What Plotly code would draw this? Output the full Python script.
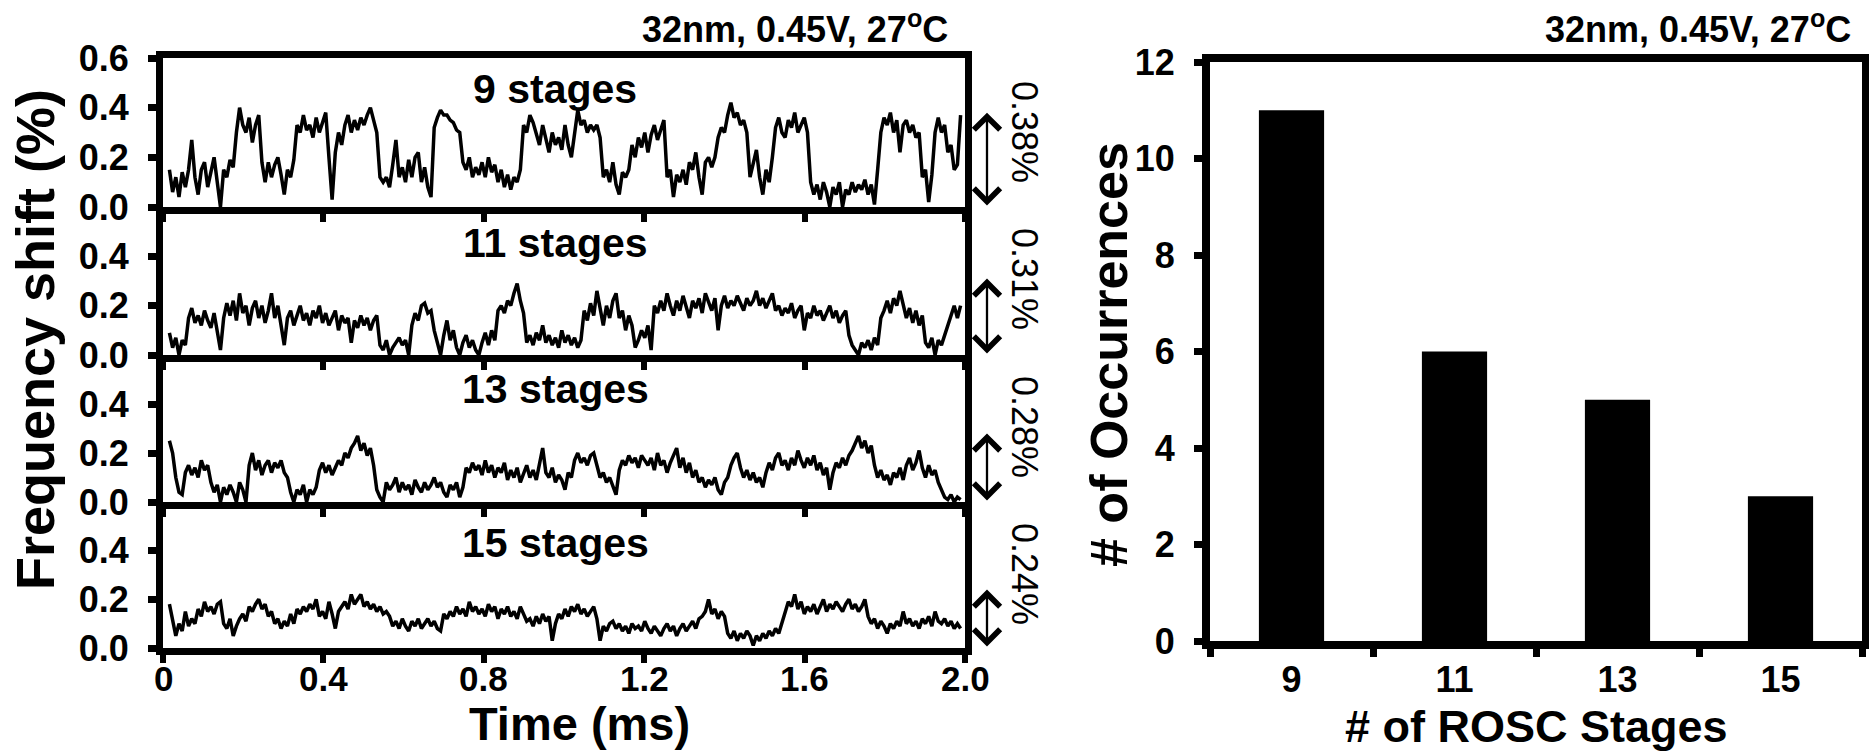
import numpy as np
import plotly.graph_objects as go

# ---------------- data ----------------
stage_labels = ["9 stages", "11 stages", "13 stages", "15 stages"]
spread_labels = ["0.38%", "0.31%", "0.28%", "0.24%"]
spread_values = [0.38, 0.31, 0.28, 0.24]
time_start, time_end = 0.016, 1.989   # ms, first / last sample

shift_9 = [
    0.15, 0.06, 0.12, 0.04, 0.14, 0.08, 0.15, 0.27, 0.12, 0.05, 0.15, 0.18, 0.08, 0.14, 0.20, 0.10,
    0.00, 0.15, 0.12, 0.19, 0.16, 0.30, 0.40, 0.33, 0.30, 0.36, 0.26, 0.33, 0.37, 0.18, 0.10, 0.18,
    0.12, 0.17, 0.20, 0.13, 0.05, 0.15, 0.12, 0.19, 0.33, 0.30, 0.37, 0.31, 0.33, 0.28, 0.36, 0.30,
    0.34, 0.38, 0.20, 0.03, 0.22, 0.30, 0.25, 0.33, 0.37, 0.30, 0.35, 0.31, 0.36, 0.33, 0.37, 0.40,
    0.35, 0.30, 0.12, 0.10, 0.12, 0.08, 0.17, 0.27, 0.12, 0.16, 0.10, 0.19, 0.12, 0.20, 0.22, 0.10,
    0.16, 0.08, 0.04, 0.32, 0.36, 0.39, 0.37, 0.37, 0.35, 0.34, 0.31, 0.30, 0.18, 0.15, 0.20, 0.12,
    0.16, 0.13, 0.18, 0.12, 0.20, 0.14, 0.17, 0.10, 0.15, 0.08, 0.13, 0.07, 0.12, 0.10, 0.15, 0.33,
    0.30, 0.37, 0.34, 0.30, 0.25, 0.33, 0.27, 0.22, 0.30, 0.25, 0.28, 0.23, 0.33, 0.25, 0.20, 0.30,
    0.39, 0.33, 0.35, 0.30, 0.33, 0.31, 0.33, 0.28, 0.12, 0.15, 0.10, 0.18, 0.09, 0.05, 0.14, 0.12,
    0.15, 0.25, 0.20, 0.28, 0.24, 0.30, 0.22, 0.29, 0.33, 0.27, 0.31, 0.35, 0.12, 0.15, 0.04, 0.13,
    0.10, 0.15, 0.09, 0.18, 0.15, 0.22, 0.12, 0.05, 0.18, 0.20, 0.16, 0.20, 0.28, 0.32, 0.30, 0.37,
    0.42, 0.36, 0.38, 0.33, 0.35, 0.30, 0.12, 0.18, 0.23, 0.12, 0.05, 0.15, 0.10, 0.20, 0.32, 0.36,
    0.30, 0.28, 0.35, 0.32, 0.38, 0.30, 0.33, 0.36, 0.30, 0.10, 0.05, 0.09, 0.03, 0.10, 0.06, 0.00,
    0.08, 0.05, 0.10, 0.00, 0.07, 0.05, 0.10, 0.06, 0.09, 0.07, 0.11, 0.05, 0.09, 0.01, 0.15, 0.30,
    0.36, 0.33, 0.38, 0.30, 0.35, 0.22, 0.33, 0.35, 0.30, 0.33, 0.28, 0.30, 0.12, 0.15, 0.02, 0.13,
    0.30, 0.36, 0.30, 0.33, 0.22, 0.25, 0.15, 0.17, 0.37,
]

shift_11 = [
    0.09, 0.03, 0.07, 0.00, 0.06, 0.04, 0.15, 0.19, 0.13, 0.16, 0.12, 0.18, 0.14, 0.11, 0.17, 0.10,
    0.02, 0.15, 0.21, 0.16, 0.22, 0.14, 0.25, 0.17, 0.20, 0.12, 0.19, 0.22, 0.15, 0.20, 0.13, 0.18,
    0.25, 0.15, 0.20, 0.12, 0.04, 0.15, 0.18, 0.12, 0.16, 0.20, 0.14, 0.17, 0.12, 0.18, 0.15, 0.20,
    0.13, 0.17, 0.12, 0.15, 0.18, 0.10, 0.16, 0.13, 0.15, 0.05, 0.14, 0.11, 0.16, 0.12, 0.15, 0.10,
    0.14, 0.16, 0.04, 0.02, 0.06, 0.00, 0.03, 0.05, 0.07, 0.04, 0.06, 0.00, 0.12, 0.17, 0.14, 0.20,
    0.21, 0.17, 0.18, 0.10, 0.05, 0.00, 0.08, 0.14, 0.06, 0.10, 0.03, 0.00, 0.05, 0.08, 0.03, 0.06,
    0.02, 0.00, 0.05, 0.09, 0.04, 0.10, 0.06, 0.18, 0.20, 0.17, 0.22, 0.20, 0.25, 0.29, 0.22, 0.17,
    0.05, 0.08, 0.04, 0.09, 0.06, 0.12, 0.05, 0.08, 0.04, 0.07, 0.03, 0.10, 0.05, 0.08, 0.04, 0.07,
    0.03, 0.06, 0.18, 0.14, 0.21, 0.16, 0.26, 0.18, 0.12, 0.20, 0.15, 0.22, 0.25, 0.15, 0.18, 0.10,
    0.16, 0.12, 0.03, 0.06, 0.10, 0.07, 0.12, 0.02, 0.20, 0.17, 0.22, 0.18, 0.25, 0.20, 0.16, 0.22,
    0.18, 0.24, 0.20, 0.15, 0.22, 0.19, 0.23, 0.17, 0.25, 0.21, 0.18, 0.23, 0.10, 0.20, 0.24, 0.19,
    0.22, 0.20, 0.24, 0.21, 0.18, 0.23, 0.20, 0.22, 0.26, 0.20, 0.23, 0.19, 0.22, 0.25, 0.18, 0.20,
    0.16, 0.19, 0.17, 0.21, 0.15, 0.18, 0.20, 0.10, 0.17, 0.15, 0.20, 0.16, 0.18, 0.14, 0.17, 0.20,
    0.15, 0.18, 0.13, 0.16, 0.18, 0.08, 0.04, 0.02, 0.00, 0.05, 0.03, 0.06, 0.02, 0.07, 0.04, 0.15,
    0.18, 0.22, 0.17, 0.23, 0.20, 0.26, 0.21, 0.15, 0.19, 0.13, 0.18, 0.12, 0.16, 0.05, 0.03, 0.07,
    0.00, 0.06, 0.04, 0.08, 0.12, 0.16, 0.20, 0.15, 0.20,
]

shift_13 = [
    0.25, 0.20, 0.10, 0.04, 0.03, 0.12, 0.15, 0.11, 0.14, 0.10, 0.17, 0.13, 0.15, 0.08, 0.04, 0.07,
    0.00, 0.06, 0.03, 0.07, 0.04, 0.00, 0.08, 0.05, 0.00, 0.15, 0.20, 0.13, 0.17, 0.11, 0.15, 0.17,
    0.12, 0.16, 0.14, 0.17, 0.12, 0.10, 0.04, 0.00, 0.05, 0.03, 0.07, 0.00, 0.05, 0.03, 0.06, 0.13,
    0.16, 0.12, 0.15, 0.11, 0.14, 0.17, 0.15, 0.20, 0.18, 0.22, 0.24, 0.27, 0.21, 0.24, 0.19, 0.22,
    0.15, 0.05, 0.02, 0.00, 0.08, 0.05, 0.07, 0.10, 0.04, 0.08, 0.05, 0.07, 0.03, 0.09, 0.06, 0.04,
    0.08, 0.05, 0.07, 0.10, 0.06, 0.08, 0.04, 0.02, 0.07, 0.05, 0.08, 0.02, 0.06, 0.14, 0.12, 0.16,
    0.13, 0.15, 0.11, 0.17, 0.12, 0.15, 0.10, 0.14, 0.12, 0.16, 0.09, 0.13, 0.10, 0.14, 0.08, 0.12,
    0.15, 0.10, 0.13, 0.09, 0.16, 0.22, 0.12, 0.10, 0.14, 0.08, 0.11, 0.09, 0.05, 0.12, 0.10, 0.17,
    0.20, 0.16, 0.18, 0.15, 0.19, 0.20, 0.15, 0.10, 0.12, 0.08, 0.10, 0.06, 0.03, 0.13, 0.17, 0.15,
    0.19, 0.16, 0.18, 0.14, 0.19, 0.17, 0.15, 0.18, 0.13, 0.20, 0.15, 0.17, 0.12, 0.16, 0.19, 0.22,
    0.14, 0.18, 0.12, 0.16, 0.10, 0.13, 0.08, 0.10, 0.06, 0.09, 0.07, 0.10, 0.05, 0.03, 0.08, 0.10,
    0.15, 0.18, 0.20, 0.14, 0.10, 0.13, 0.09, 0.12, 0.08, 0.10, 0.06, 0.12, 0.16, 0.13, 0.18, 0.20,
    0.15, 0.17, 0.13, 0.18, 0.15, 0.21, 0.17, 0.14, 0.18, 0.15, 0.19, 0.13, 0.16, 0.11, 0.14, 0.05,
    0.12, 0.16, 0.14, 0.18, 0.15, 0.19, 0.21, 0.24, 0.27, 0.22, 0.25, 0.20, 0.23, 0.15, 0.10, 0.13,
    0.09, 0.11, 0.07, 0.12, 0.10, 0.14, 0.09, 0.15, 0.18, 0.13, 0.16, 0.21, 0.14, 0.10, 0.15, 0.11,
    0.13, 0.08, 0.05, 0.02, 0.01, 0.03, 0.00, 0.02, 0.01,
]

shift_15 = [
    0.18, 0.12, 0.05, 0.10, 0.07, 0.15, 0.09, 0.12, 0.10, 0.16, 0.13, 0.19, 0.15, 0.17, 0.14, 0.18,
    0.19, 0.10, 0.08, 0.12, 0.05, 0.09, 0.12, 0.14, 0.11, 0.17, 0.15, 0.18, 0.20, 0.16, 0.18, 0.13,
    0.15, 0.10, 0.12, 0.08, 0.11, 0.09, 0.14, 0.10, 0.16, 0.14, 0.17, 0.15, 0.18, 0.16, 0.20, 0.13,
    0.15, 0.12, 0.19, 0.14, 0.08, 0.15, 0.17, 0.19, 0.16, 0.22, 0.18, 0.20, 0.22, 0.17, 0.19, 0.16,
    0.18, 0.15, 0.17, 0.14, 0.15, 0.13, 0.09, 0.11, 0.08, 0.12, 0.09, 0.07, 0.11, 0.09, 0.12, 0.08,
    0.10, 0.12, 0.09, 0.11, 0.08, 0.07, 0.14, 0.12, 0.15, 0.13, 0.17, 0.14, 0.16, 0.13, 0.19, 0.15,
    0.17, 0.14, 0.16, 0.13, 0.18, 0.15, 0.17, 0.12, 0.16, 0.14, 0.17, 0.13, 0.15, 0.12, 0.17, 0.14,
    0.11, 0.12, 0.09, 0.13, 0.10, 0.14, 0.11, 0.13, 0.03, 0.10, 0.14, 0.12, 0.16, 0.13, 0.17, 0.15,
    0.18, 0.14, 0.16, 0.13, 0.15, 0.17, 0.12, 0.03, 0.09, 0.07, 0.10, 0.11, 0.08, 0.10, 0.07, 0.09,
    0.06, 0.10, 0.08, 0.09, 0.07, 0.11, 0.08, 0.06, 0.09, 0.07, 0.05, 0.08, 0.10, 0.07, 0.09, 0.05,
    0.08, 0.10, 0.07, 0.09, 0.11, 0.08, 0.12, 0.13, 0.15, 0.20, 0.14, 0.16, 0.12, 0.15, 0.13, 0.06,
    0.04, 0.07, 0.03, 0.06, 0.04, 0.07, 0.05, 0.01, 0.05, 0.03, 0.06, 0.04, 0.07, 0.05, 0.08, 0.06,
    0.10, 0.15, 0.19, 0.17, 0.22, 0.16, 0.19, 0.14, 0.17, 0.15, 0.18, 0.14, 0.17, 0.20, 0.15, 0.18,
    0.16, 0.19, 0.17, 0.15, 0.18, 0.20, 0.16, 0.18, 0.15, 0.17, 0.20, 0.13, 0.10, 0.12, 0.08, 0.11,
    0.09, 0.06, 0.10, 0.08, 0.11, 0.09, 0.15, 0.10, 0.12, 0.09, 0.11, 0.08, 0.12, 0.10, 0.13, 0.09,
    0.15, 0.11, 0.10, 0.12, 0.09, 0.11, 0.08, 0.10, 0.08,
]

time_ticks = [0, 0.4, 0.8, 1.2, 1.6, 2.0]
time_tick_text = ["0", "0.4", "0.8", "1.2", "1.6", "2.0"]

rosc_stages = ["9", "11", "13", "15"]
occurrences = [11, 6, 5, 3]

condition_text = "32nm, 0.45V, 27<sup>o</sup>C"

# ---------------- layout helpers ----------------
W, H = 1869, 754
def fx(p):
    return p / W
def fy(p):
    return 1 - p / H

FONT = "Liberation Sans, Arial, sans-serif"
BOLD = dict(family=FONT, color="black", weight="bold")

panel_edges = [58, 207, 355, 502, 648]   # pixel rows of panel frame lines
left_x = [163, 965]
right_x = [1210, 1862]
right_y = [62, 641]

fig = go.Figure()
series = [shift_9, shift_11, shift_13, shift_15]
for i, s in enumerate(series):
    k = i + 1
    t = np.linspace(time_start, time_end, len(s))
    fig.add_trace(go.Scatter(
        x=t, y=s, mode="lines",
        line=dict(color="black", width=3.5),
        xaxis="x" if k == 1 else f"x{k}",
        yaxis="y" if k == 1 else f"y{k}",
        showlegend=False, hoverinfo="skip",
    ))

fig.add_trace(go.Bar(
    x=rosc_stages, y=occurrences, width=0.4,
    marker=dict(color="black", line=dict(width=0)),
    xaxis="x5", yaxis="y5", showlegend=False, hoverinfo="skip",
))

layout = dict(
    width=W, height=H,
    margin=dict(l=0, r=0, t=0, b=0),
    paper_bgcolor="white", plot_bgcolor="white",
    template="none",
    showlegend=False,
)

for i in range(4):
    k = i + 1
    xname = "xaxis" if k == 1 else f"xaxis{k}"
    yname = "yaxis" if k == 1 else f"yaxis{k}"
    yanchor = "y" if k == 1 else f"y{k}"
    xanchor = "x" if k == 1 else f"x{k}"
    yt = [0, 0.2, 0.4, 0.6] if k == 1 else [0, 0.2, 0.4]
    layout[xname] = dict(
        domain=[fx(left_x[0]), fx(left_x[1])],
        anchor=yanchor, range=[0, 2.0],
        tickvals=time_ticks, showticklabels=False,
        ticks="outside", ticklen=8, tickwidth=6, tickcolor="black",
        showline=True, linewidth=7, linecolor="black",
        mirror=(k == 1),
        showgrid=False, zeroline=False,
    )
    layout[yname] = dict(
        domain=[fy(panel_edges[k]), fy(panel_edges[k - 1])],
        anchor=xanchor, range=[0, 0.6],
        tickvals=yt, ticktext=[f"{v:.1f}" for v in yt],
        ticks="outside", ticklen=8, tickwidth=7, tickcolor="black",
        showline=True, linewidth=7, linecolor="black", mirror=True,
        showgrid=False, zeroline=False,
        tickfont=dict(size=36, **BOLD),
        ticklabelstandoff=12,
    )

layout["xaxis5"] = dict(
    domain=[fx(right_x[0]), fx(right_x[1])], anchor="y5",
    type="category", tickson="boundaries",
    ticks="outside", ticklen=8, tickwidth=7, tickcolor="black",
    showline=True, linewidth=8, linecolor="black", mirror=True,
    showgrid=False, zeroline=False,
    tickfont=dict(size=36, **BOLD), ticklabelstandoff=0,
)
layout["yaxis5"] = dict(
    domain=[fy(right_y[1]), fy(right_y[0])], anchor="x5",
    range=[0, 12], tickvals=list(range(0, 13, 2)),
    ticks="outside", ticklen=8, tickwidth=7, tickcolor="black",
    showline=True, linewidth=8, linecolor="black", mirror=True,
    showgrid=False, zeroline=False,
    tickfont=dict(size=36, **BOLD), ticklabelstandoff=12,
)

annotations = []
# condition captions
for right_edge in (950, 1853):
    annotations.append(dict(text=condition_text, xref="paper", yref="paper",
                            x=fx(right_edge), y=fy(27), xanchor="right", yanchor="middle",
                            showarrow=False, font=dict(size=36, **BOLD)))

# time tick labels of the bottom panel, placed on the bottom panel's x scale
for tv, tt in zip(time_ticks, time_tick_text):
    annotations.append(dict(text=tt, xref="x4", yref="paper",
                            x=tv, y=fy(678), xanchor="center", yanchor="middle",
                            showarrow=False, font=dict(size=35, **BOLD)))

stage_label_rows = [89, 243, 389, 543]
pct_rows = [132, 279, 427, 574]
for i in range(4):
    k = i + 1
    yref = "y" if k == 1 else f"y{k}"
    annotations.append(dict(text=stage_labels[i], xref="paper", yref="paper",
                            x=fx(555), y=fy(stage_label_rows[i]),
                            xanchor="center", yanchor="middle", showarrow=False,
                            font=dict(size=41, **BOLD)))
    # double headed arrow from 0 to the spread value
    annotations.append(dict(text="", xref="paper", yref=yref,
                            x=fx(987), y=spread_values[i],
                            axref="pixel", ax=0, ayref=yref, ay=0,
                            showarrow=True, arrowhead=4, startarrowhead=4,
                            arrowside="end+start", arrowsize=2.2, startarrowsize=2.2,
                            arrowwidth=2.3, arrowcolor="black"))
    annotations.append(dict(text=spread_labels[i], xref="paper", yref="paper",
                            x=fx(1025), y=fy(pct_rows[i]), textangle=90,
                            xanchor="center", yanchor="middle", showarrow=False,
                            font=dict(size=36, family=FONT, color="black")))

# axis titles
annotations.append(dict(text="Frequency shift (%)", xref="paper", yref="paper",
                        x=fx(35), y=fy(340), textangle=-90, xanchor="center", yanchor="middle",
                        showarrow=False, font=dict(size=54, **BOLD)))
annotations.append(dict(text="Time (ms)", xref="paper", yref="paper",
                        x=fx(579), y=fy(723), xanchor="center", yanchor="middle",
                        showarrow=False, font=dict(size=47, **BOLD)))
annotations.append(dict(text="# of Occurrences", xref="paper", yref="paper",
                        x=fx(1109), y=fy(355), textangle=-90, xanchor="center", yanchor="middle",
                        showarrow=False, font=dict(size=52, **BOLD)))
annotations.append(dict(text="# of ROSC Stages", xref="paper", yref="paper",
                        x=fx(1536), y=fy(726), xanchor="center", yanchor="middle",
                        showarrow=False, font=dict(size=45, **BOLD)))

layout["annotations"] = annotations
fig.update_layout(**layout)
fig.write_html("out.html")
